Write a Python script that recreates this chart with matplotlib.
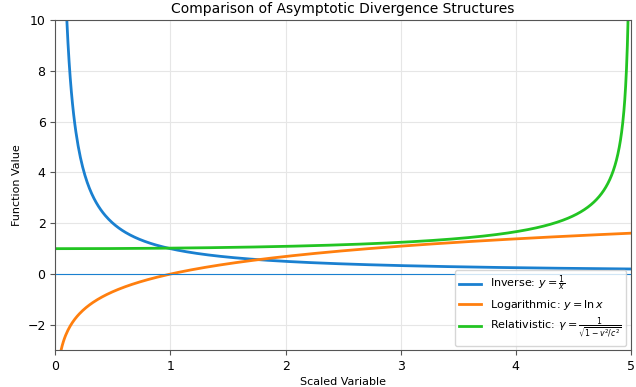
import numpy as np
import matplotlib
matplotlib.use("Agg")
import matplotlib.pyplot as plt

# Parameters of the plotted functions
c_light = 5.0
x_inverse = np.linspace(0.1, 5.0, 500)
x_log = np.linspace(0.05, 5.0, 500)
x_rel = np.linspace(0.0, 4.999, 2000)

y_inverse = 1.0 / x_inverse
y_log = np.log(x_log)
y_rel = 1.0 / np.sqrt(1.0 - x_rel**2 / c_light**2)

labels = [r"Inverse: $y = \frac{1}{x}$",
          r"Logarithmic: $y = \ln x$",
          r"Relativistic: $\gamma = \frac{1}{\sqrt{1 - v^2/c^2}}$"]
colors = ["#1a80d0", "#ff7f0e", "#22c422"]

fig, ax = plt.subplots(figsize=(6.36, 3.87), dpi=100)
fig.subplots_adjust(left=0.087, right=0.992, top=0.948, bottom=0.095)

ax.plot(x_inverse, y_inverse, color=colors[0], lw=2, label=labels[0])
ax.plot(x_log, y_log, color=colors[1], lw=2, label=labels[1])
ax.plot(x_rel, y_rel, color=colors[2], lw=2, label=labels[2])
ax.axhline(0, color=colors[0], lw=0.8)

ax.set_xlim(0, 5)
ax.set_ylim(-3, 10)
ax.set_xticks([0, 1, 2, 3, 4, 5])
ax.set_yticks([-2, 0, 2, 4, 6, 8, 10])
ax.grid(True, color="#e6e6e6", lw=0.8)
for s in ax.spines.values():
    s.set_color("#555555")
ax.tick_params(labelsize=9, color="#555555")
ax.set_title("Comparison of Asymptotic Divergence Structures", fontsize=10, pad=5)
ax.set_xlabel("Scaled Variable", fontsize=8, labelpad=3)
ax.set_ylabel("Function Value", fontsize=8)
ax.legend(loc="lower right", fontsize=8, labelspacing=0.35, borderaxespad=0.4)

fig.savefig("out.png", dpi=100)
